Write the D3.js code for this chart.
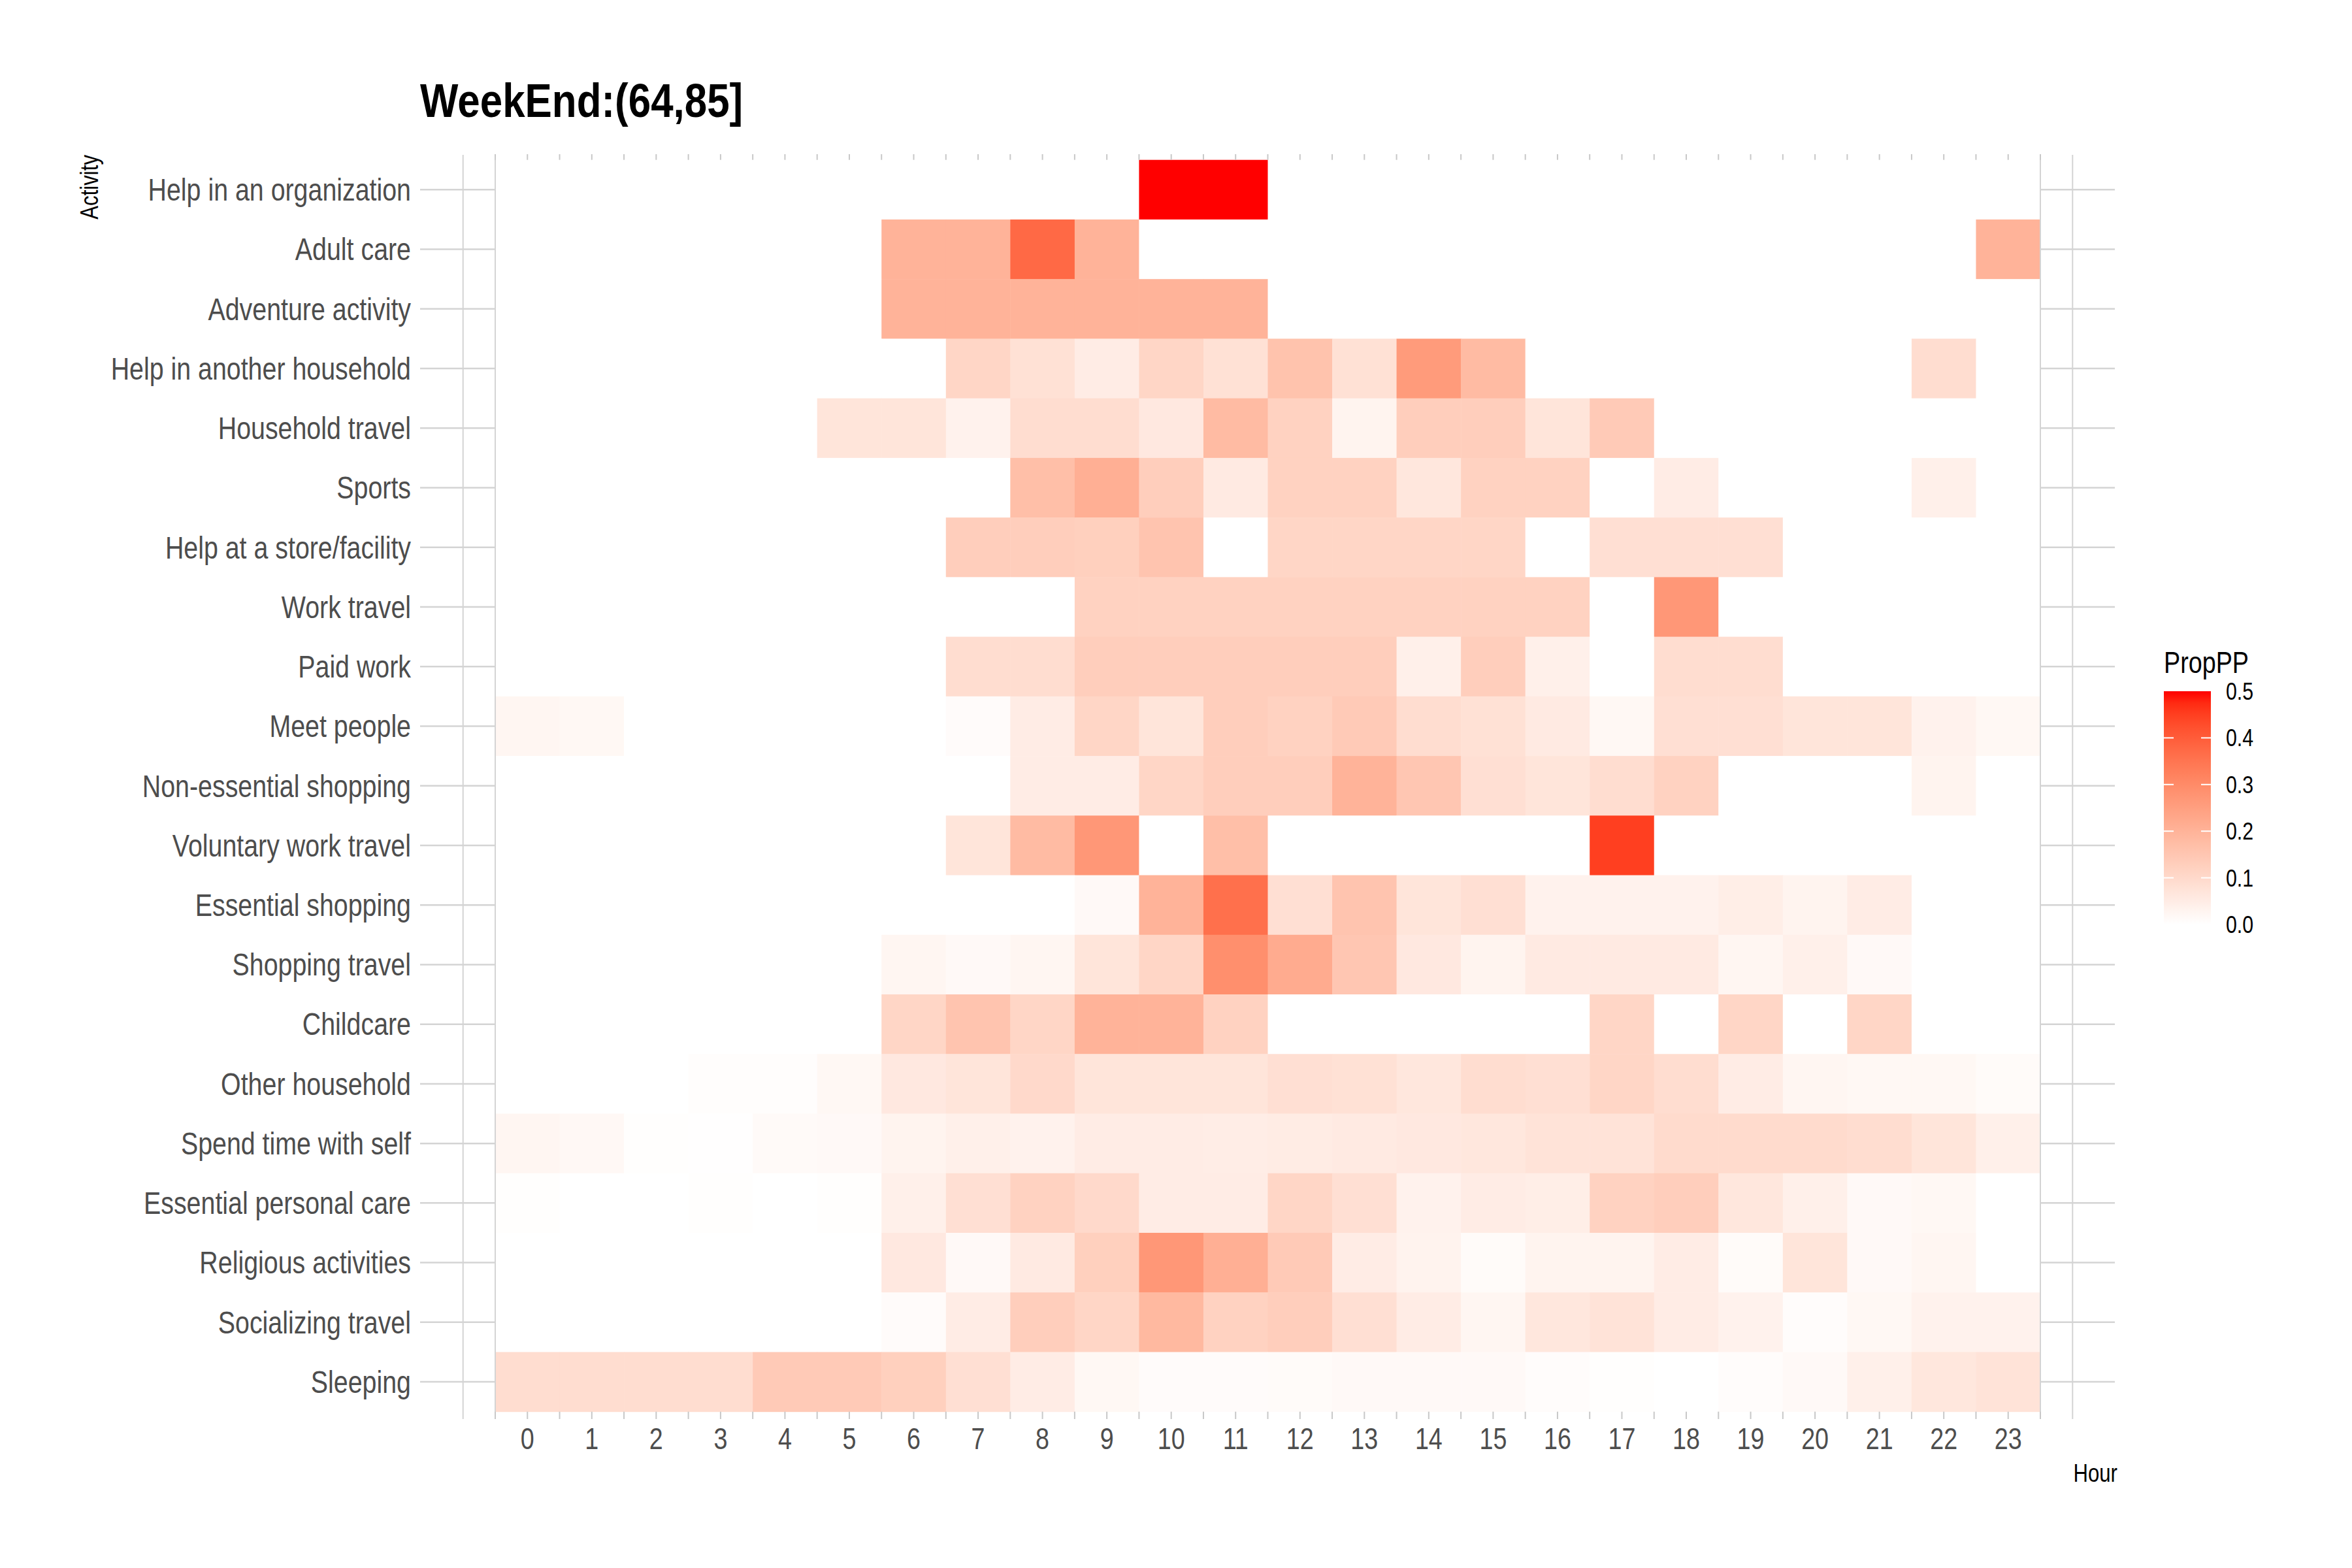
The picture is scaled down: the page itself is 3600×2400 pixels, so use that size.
<!DOCTYPE html>
<html>
<head>
<meta charset="utf-8">
<script src="https://cdn.jsdelivr.net/npm/d3@7"></script>
<style>
  html, body { margin: 0; padding: 0; background: #ffffff; }
  svg { display: block; }
  text { font-family: "Liberation Sans", Arial, sans-serif; }
</style>
</head>
<body>
<svg id="chart" width="3600" height="2400"></svg>
<script>
// ---------------- DATA ----------------
const chartTitle = "WeekEnd:(64,85]";
const hours = [0,1,2,3,4,5,6,7,8,9,10,11,12,13,14,15,16,17,18,19,20,21,22,23];
const activities = [
  "Help in an organization",
  "Adult care",
  "Adventure activity",
  "Help in another household",
  "Household travel",
  "Sports",
  "Help at a store/facility",
  "Work travel",
  "Paid work",
  "Meet people",
  "Non-essential shopping",
  "Voluntary work travel",
  "Essential shopping",
  "Shopping travel",
  "Childcare",
  "Other household",
  "Spend time with self",
  "Essential personal care",
  "Religious activities",
  "Socializing travel",
  "Sleeping"
];
// PropPP by activity (rows, same order as activities) and hour 0..23 (columns)
const helpOrganization   = [0,0,0,0,0,0,0,0,0,0,0.5,0.5,0,0,0,0,0,0,0,0,0,0,0,0];
const adultCare          = [0,0,0,0,0,0,0.2,0.2,0.375,0.2,0,0,0,0,0,0,0,0,0,0,0,0,0,0.2];
const adventureActivity  = [0,0,0,0,0,0,0.2,0.2,0.2,0.2,0.2,0.2,0,0,0,0,0,0,0,0,0,0,0,0];
const helpHousehold      = [0,0,0,0,0,0,0,0.11,0.08,0.05,0.11,0.08,0.16,0.08,0.26,0.18,0,0,0,0,0,0,0.09,0];
const householdTravel    = [0,0,0,0,0,0.07,0.07,0.035,0.09,0.09,0.06,0.18,0.12,0.03,0.13,0.13,0.07,0.14,0,0,0,0,0,0];
const sports             = [0,0,0,0,0,0,0,0,0.17,0.21,0.13,0.055,0.12,0.12,0.065,0.12,0.12,0,0.05,0,0,0,0.04,0];
const helpStore          = [0,0,0,0,0,0,0,0.13,0.13,0.125,0.155,0,0.11,0.11,0.11,0.11,0,0.085,0.085,0.085,0,0,0,0];
const workTravel         = [0,0,0,0,0,0,0,0,0,0.12,0.12,0.12,0.12,0.12,0.12,0.12,0.12,0,0.27,0,0,0,0,0];
const paidWork           = [0,0,0,0,0,0,0,0.09,0.09,0.13,0.13,0.13,0.13,0.13,0.04,0.13,0.04,0,0.09,0.09,0,0,0,0];
const meetPeople         = [0.025,0.02,0,0,0,0,0,0.01,0.05,0.11,0.07,0.13,0.12,0.14,0.09,0.08,0.055,0.02,0.085,0.085,0.07,0.07,0.035,0.02];
const nonEssentialShop   = [0,0,0,0,0,0,0,0,0.05,0.05,0.11,0.13,0.13,0.2,0.15,0.085,0.07,0.09,0.12,0,0,0,0.03,0];
const voluntaryTravel    = [0,0,0,0,0,0,0,0.07,0.18,0.27,0,0.17,0,0,0,0,0,0.45,0,0,0,0,0,0];
const essentialShopping  = [0,0,0,0,0,0,0,0,0,0.015,0.2,0.36,0.085,0.155,0.07,0.085,0.035,0.035,0.035,0.045,0.03,0.05,0,0];
const shoppingTravel     = [0,0,0,0,0,0,0.025,0.015,0.025,0.07,0.11,0.29,0.22,0.15,0.06,0.03,0.055,0.055,0.055,0.025,0.04,0.015,0,0];
const childcare          = [0,0,0,0,0,0,0.11,0.155,0.11,0.2,0.2,0.12,0,0,0,0,0,0.11,0,0.11,0,0.11,0,0];
const otherHousehold     = [0,0,0,0.005,0.005,0.02,0.06,0.07,0.1,0.07,0.07,0.07,0.085,0.08,0.065,0.09,0.085,0.11,0.09,0.05,0.025,0.02,0.02,0.012];
const timeWithSelf       = [0.025,0.018,0.003,0.002,0.013,0.015,0.03,0.04,0.035,0.05,0.05,0.048,0.052,0.055,0.06,0.065,0.075,0.075,0.095,0.095,0.095,0.09,0.07,0.04];
const personalCare       = [0.003,0,0,0.004,0,0.004,0.04,0.085,0.12,0.1,0.05,0.05,0.11,0.085,0.035,0.05,0.045,0.12,0.13,0.065,0.04,0.015,0.02,0];
const religious          = [0,0,0,0,0,0,0.06,0.015,0.055,0.125,0.27,0.21,0.14,0.05,0.033,0.012,0.03,0.03,0.05,0.012,0.07,0.015,0.025,0];
const socializingTravel  = [0,0,0,0,0,0,0.01,0.05,0.13,0.11,0.185,0.12,0.13,0.085,0.05,0.025,0.065,0.075,0.05,0.035,0.008,0.02,0.035,0.035];
const sleeping           = [0.09,0.09,0.09,0.09,0.14,0.14,0.125,0.085,0.05,0.02,0.01,0.01,0.012,0.015,0.015,0.015,0.008,0.004,0,0.008,0.015,0.04,0.065,0.075];

const seriesRows = [helpOrganization, adultCare, adventureActivity, helpHousehold, householdTravel,
  sports, helpStore, workTravel, paidWork, meetPeople, nonEssentialShop, voluntaryTravel,
  essentialShopping, shoppingTravel, childcare, otherHousehold, timeWithSelf, personalCare,
  religious, socializingTravel, sleeping];

const legendTitle = "PropPP";
const legendTicks = [0.0, 0.1, 0.2, 0.3, 0.4, 0.5];
const xAxisTitle = "Hour";
const yAxisTitle = "Activity";

// ---------------- LAYOUT ----------------
const svg = d3.select("#chart");
svg.append("rect").attr("width", 3600).attr("height", 2400).attr("fill", "#ffffff");

const NARROW = 0.82; // horizontal condensation to mimic a narrow font
function narrowText(parent, tx, ty, str, opts) {
  const k = opts.narrow || NARROW;
  const rot = opts.rotate ? ` rotate(${opts.rotate})` : "";
  return parent.append("text")
    .attr("transform", `translate(${tx},${ty})${rot} scale(${k},1)`)
    .attr("x", 0).attr("y", 0)
    .attr("dy", opts.dy || null)
    .attr("text-anchor", opts.anchor || "start")
    .attr("font-size", opts.size)
    .attr("font-weight", opts.weight || null)
    .attr("fill", opts.fill || "#000")
    .text(str);
}

const tileLeft = 758, tileRight = 3123, tileTop = 244.7, tileBottom = 2160.7;
const panelLeft = 643, panelRight = 3237;
const gridColor = "#d4d4d4";

const x = d3.scaleBand().domain(hours).range([tileLeft, tileRight]).padding(0);
const y = d3.scaleBand().domain(activities).range([tileTop, tileBottom]).padding(0);
const color = d3.scaleLinear().domain([0, 0.5]).range(["#ffffff", "#ff0000"])
  .interpolate(d3.interpolateLab).clamp(true);

const cells = [];
activities.forEach((a, i) => hours.forEach((h, j) => cells.push({a, h, v: seriesRows[i][j]})));

// horizontal grid lines (outside tiles)
const g = svg.append("g");
activities.forEach(a => {
  const cy = y(a) + y.bandwidth() / 2;
  g.append("line").attr("x1", panelLeft).attr("x2", tileLeft).attr("y1", cy).attr("y2", cy)
    .attr("stroke", gridColor).attr("stroke-width", 2.5);
  g.append("line").attr("x1", tileRight).attr("x2", panelRight).attr("y1", cy).attr("y2", cy)
    .attr("stroke", gridColor).attr("stroke-width", 2.5);
});

// tiles
svg.append("g").selectAll("rect").data(cells).join("rect")
  .attr("x", d => x(d.h))
  .attr("y", d => y(d.a))
  .attr("width", x.bandwidth() + 0.5)
  .attr("height", y.bandwidth() + 0.5)
  .attr("fill", d => color(d.v));

// vertical grid lines
const vTop = 237, vBottom = 2172;
const step = x.step();
[tileLeft - step / 2, tileLeft, tileRight, tileRight + step / 2].forEach(vx => {
  svg.append("line").attr("x1", vx).attr("x2", vx).attr("y1", vTop).attr("y2", vBottom)
    .attr("stroke", gridColor).attr("stroke-width", 2);
});

// half-hour ticks top & bottom
const tickPos = [];
hours.forEach(h => { tickPos.push(x(h)); tickPos.push(x(h) + x.bandwidth() / 2); });
tickPos.push(tileRight);
const tg = svg.append("g");
tickPos.forEach(tx => {
  tg.append("line").attr("x1", tx).attr("x2", tx).attr("y1", 236).attr("y2", tileTop)
    .attr("stroke", "#c8c8c8").attr("stroke-width", 2);
  tg.append("line").attr("x1", tx).attr("x2", tx).attr("y1", tileBottom).attr("y2", 2172)
    .attr("stroke", "#c8c8c8").attr("stroke-width", 2);
});

// y axis labels
const yl = svg.append("g");
activities.forEach(a => {
  narrowText(yl, 629, y(a) + y.bandwidth() / 2, a, {anchor: "end", size: 48, dy: "0.35em", fill: "#4d4d4d"});
});

// x axis labels
const xl = svg.append("g");
hours.forEach(h => {
  narrowText(xl, x(h) + x.bandwidth() / 2, 2218, String(h), {anchor: "middle", size: 46, fill: "#4d4d4d"});
});

// axis titles
narrowText(svg, 3241, 2268, xAxisTitle, {anchor: "end", size: 38});
narrowText(svg, 150, 237, yAxisTitle, {anchor: "end", size: 38, rotate: -90});

// title
narrowText(svg, 643, 179, chartTitle, {size: 72, weight: "bold", narrow: 0.86});

// legend
const lgX = 3312, lgW = 72, lgTop = 1058, lgBottom = 1415;
const ly = d3.scaleLinear().domain([0, 0.5]).range([lgBottom, lgTop]);
const defs = svg.append("defs");
const grad = defs.append("linearGradient").attr("id", "lg").attr("x1", 0).attr("x2", 0).attr("y1", 1).attr("y2", 0);
d3.range(0, 1.0001, 0.05).forEach(t => {
  grad.append("stop").attr("offset", t).attr("stop-color", color(t * 0.5));
});
narrowText(svg, lgX, 1030, legendTitle, {size: 46});
svg.append("rect").attr("x", lgX).attr("y", lgTop).attr("width", lgW).attr("height", lgBottom - lgTop)
  .attr("fill", "url(#lg)");
legendTicks.forEach(v => {
  const yy = ly(v);
  if (v > 0 && v < 0.5) {
    svg.append("line").attr("x1", lgX).attr("x2", lgX + 15).attr("y1", yy).attr("y2", yy)
      .attr("stroke", "#ffffff").attr("stroke-width", 2);
    svg.append("line").attr("x1", lgX + lgW - 15).attr("x2", lgX + lgW).attr("y1", yy).attr("y2", yy)
      .attr("stroke", "#ffffff").attr("stroke-width", 2);
  }
  narrowText(svg, 3407, yy, v.toFixed(1), {size: 37, dy: "0.35em"});
});
</script>
</body>
</html>
